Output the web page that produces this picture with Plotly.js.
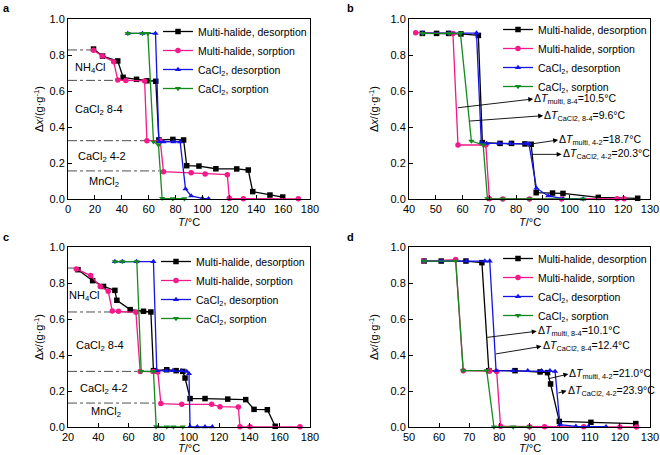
<!DOCTYPE html>
<html>
<head>
<meta charset="utf-8">
<script src="https://cdn.plot.ly/plotly-3.0.1.min.js"></script>
<style>html,body{margin:0;padding:0;background:#fff;}#chart{width:660px;height:455px;}</style>
</head>
<body>
<div id="chart"></div>
<script>
// ---------- Data ----------
const seriesNames = ['Multi-halide, desorption', 'Multi-halide, sorption', 'CaCl<sub>2</sub>, desorption', 'CaCl<sub>2</sub>, sorption'];

// Panel a
const aMDx = [19, 25.7, 37, 41, 51, 58.7, 65.3, 67.6, 78, 86, 88.3, 97.4, 110, 125.5, 134.1, 137.4, 150.2, 159.7];
const aMDy = [0.833, 0.794, 0.767, 0.676, 0.665, 0.657, 0.654, 0.328, 0.331, 0.328, 0.185, 0.183, 0.168, 0.167, 0.161, 0.041, 0.022, 0.011];
const aMSx = [19, 25.5, 34, 37, 43, 57, 58.7, 68.6, 71, 91.6, 102, 118.5, 120, 130.4, 171.3];
const aMSy = [0.826, 0.794, 0.763, 0.661, 0.659, 0.656, 0.324, 0.324, 0.152, 0.146, 0.139, 0.135, 0.004, 0.002, 0.001];
const aCDx = [44.5, 55.4, 65.1, 67.6, 71, 78.5, 83.4, 87.4, 91.6, 100, 104.5];
const aCDy = [0.92, 0.92, 0.92, 0.318, 0.318, 0.318, 0.318, 0.056, 0.017, 0.004, 0.002];
const aCSx = [44.5, 55.4, 59.4, 63.6, 67.3, 70, 78, 86.6];
const aCSy = [0.92, 0.92, 0.92, 0.318, 0.30, 0.004, 0.002, 0.002];

// Panel b
const bMDx = [45, 50.3, 54.8, 59.4, 65.9, 67.4, 74, 78.3, 83.3, 85.6, 87.5, 93.6, 97.5, 110.7, 125.4];
const bMDy = [0.92, 0.92, 0.92, 0.917, 0.909, 0.313, 0.309, 0.309, 0.306, 0.304, 0.035, 0.033, 0.031, 0.009, 0.004];
const bMSx = [42.5, 56.4, 58.3, 68.7, 70, 75, 85, 97, 117.7, 120.3];
const bMSy = [0.924, 0.92, 0.30, 0.30, 0.002, 0, 0, 0, 0.002, 0.002];
const bCDx = [45, 55, 65.2, 67, 69, 73.7, 77.7, 83.6, 84.8, 87.6, 92, 97.6, 105];
const bCDy = [0.922, 0.922, 0.922, 0.313, 0.309, 0.309, 0.309, 0.309, 0.306, 0.06, 0.017, 0.002, 0];
const bCSx = [45, 55, 59.2, 63.3, 67.7, 69.3, 75, 85, 105];
const bCSy = [0.92, 0.92, 0.92, 0.322, 0.30, 0.002, 0, 0, 0];

// Panel c
const cMDx = [26.6, 36.3, 43.5, 51, 52.3, 61.1, 69.9, 74.8, 76.5, 85.3, 91.5, 95.9, 97.4, 100.7, 110.6, 125.6, 137.5, 143, 151.8, 157];
const cMDy = [0.874, 0.813, 0.781, 0.759, 0.704, 0.652, 0.643, 0.639, 0.313, 0.318, 0.313, 0.309, 0.272, 0.158, 0.158, 0.155, 0.152, 0.098, 0.096, 0.004];
const cMSx = [25.5, 35, 41.3, 46.6, 49.3, 53.4, 64.9, 67.7, 76.5, 79.4, 81.4, 95.2, 115, 120.5, 132.6, 133.7, 140.3, 173.4];
const cMSy = [0.878, 0.841, 0.781, 0.754, 0.644, 0.643, 0.637, 0.309, 0.309, 0.306, 0.13, 0.126, 0.126, 0.113, 0.111, 0.002, 0.001, 0.001];
const cCDx = [51, 55.9, 65.3, 76.5, 78.7, 84.8, 89.3, 94.8, 98.5, 100, 100.7, 105.5, 110.6, 115.4];
const cCDy = [0.919, 0.919, 0.919, 0.919, 0.313, 0.313, 0.313, 0.313, 0.309, 0.296, 0.002, 0.001, 0.001, 0.001];
const cCSx = [51, 55.9, 65.5, 68.4, 76.5, 78.3, 85.3, 89.7, 95.9];
const cCSy = [0.919, 0.919, 0.919, 0.309, 0.309, 0.002, 0.001, 0.001, 0.001];

// Panel d
const dMDx = [55, 60.7, 68.9, 74.2, 76.5, 85.2, 93.5, 96, 97, 99.9, 110.4, 125.3];
const dMDy = [0.922, 0.922, 0.922, 0.913, 0.313, 0.313, 0.306, 0.302, 0.239, 0.031, 0.026, 0.019];
const dMSx = [55, 65.5, 68, 76.7, 79.1, 80.4, 90, 95, 108, 120, 125.5];
const dMSy = [0.922, 0.93, 0.313, 0.313, 0.309, 0.004, 0.002, 0.002, 0.001, 0, 0];
const dCDx = [55, 60.7, 69.1, 75.2, 76.8, 78.9, 84.5, 89.4, 94, 96.8, 98.5, 100.1, 105.4, 109.5, 115.4];
const dCDy = [0.922, 0.922, 0.922, 0.922, 0.922, 0.313, 0.313, 0.313, 0.313, 0.313, 0.309, 0.013, 0.004, 0.002, 0.002];
const dCSx = [55, 65.5, 68, 75.8, 78.2, 84.6, 90];
const dCSy = [0.922, 0.922, 0.313, 0.313, 0, 0, 0];

// Reference level lines (dash-dot): level value and end temperature
const aLevels = [0.828, 0.659, 0.324, 0.156];
const aLevelEnd = [19, 66, 66, 68];
const cLevels = [0.883, 0.639, 0.309, 0.133];
const cLevelEnd = [25, 74.4, 76.6, 78.8];

// Region labels
const regionLabels = ['NH<sub>4</sub>Cl', 'CaCl<sub>2</sub> 8-4', 'CaCl<sub>2</sub> 4-2', 'MnCl<sub>2</sub>'];

// ΔT labels
const bDeltaLabels = ['Δ<i>T</i><sub>multi, 8-4</sub>=10.5°C', 'Δ<i>T</i><sub>CaCl2, 8-4</sub>=9.6°C', 'Δ<i>T</i><sub>multi, 4-2</sub>=18.7°C', 'Δ<i>T</i><sub>CaCl2, 4-2</sub>=20.3°C'];
const dDeltaLabels = ['Δ<i>T</i><sub>multi, 8-4</sub>=10.1°C', 'Δ<i>T</i><sub>CaCl2, 8-4</sub>=12.4°C', 'Δ<i>T</i><sub>multi, 4-2</sub>=21.0°C', 'Δ<i>T</i><sub>CaCl2, 4-2</sub>=23.9°C'];

const xTitle = '<i>T</i>/°C';
const yTitle = 'Δ<i>x</i>/(g·g<sup>-1</sup>)';

// ---------- Styles ----------
const colors = ['#000000', '#F2198A', '#1414E6', '#148A1E'];
const symbols = ['square', 'circle', 'triangle-up', 'triangle-down'];
const FONT = 'Liberation Sans, Arial, Helvetica, sans-serif';

const traces = [];
function addPanel(xs, ys, xa, ya, legendId) {
  for (let i = 0; i < 4; i++) {
    traces.push({
      x: xs[i], y: ys[i], xaxis: xa, yaxis: ya, type: 'scatter', mode: 'lines+markers',
      name: seriesNames[i], legend: legendId,
      line: {color: colors[i], width: 1.3},
      marker: {color: colors[i], symbol: symbols[i], size: 5.5},
      cliponaxis: false
    });
  }
}
function addLevels(levels, ends, x0, xa, ya) {
  for (let i = 0; i < levels.length; i++) {
    traces.push({
      x: [x0, ends[i]], y: [levels[i], levels[i]], xaxis: xa, yaxis: ya, type: 'scatter', mode: 'lines',
      showlegend: false, hoverinfo: 'skip',
      line: {color: '#222', width: 0.8, dash: 'dashdot'}
    });
  }
}

addLevels(aLevels, aLevelEnd, 0, 'x', 'y');
addLevels(cLevels, cLevelEnd, 20, 'x3', 'y3');
addPanel([aMDx, aMSx, aCDx, aCSx], [aMDy, aMSy, aCDy, aCSy], 'x', 'y', 'legend');
addPanel([bMDx, bMSx, bCDx, bCSx], [bMDy, bMSy, bCDy, bCSy], 'x2', 'y2', 'legend2');
addPanel([cMDx, cMSx, cCDx, cCSx], [cMDy, cMSy, cCDy, cCSy], 'x3', 'y3', 'legend3');
addPanel([dMDx, dMSx, dCDx, dCSx], [dMDy, dMSy, dCDy, dCSy], 'x4', 'y4', 'legend4');

function xAxis(range, dtick, domain, anchor) {
  return {range: range, dtick: dtick, domain: domain, anchor: anchor,
    showline: true, mirror: true, linecolor: '#000', linewidth: 1,
    ticks: 'inside', ticklen: 4, tickwidth: 1, tickcolor: '#000',
    showgrid: false, zeroline: false, tickfont: {size: 11, color: '#000'}};
}
function yAxis(domain, anchor, standoff) {
  return {range: [0, 1], dtick: 0.2, tickformat: '.1f', domain: domain, anchor: anchor,
    showline: true, mirror: true, linecolor: '#000', linewidth: 1,
    ticks: 'inside', ticklen: 4, tickwidth: 1, tickcolor: '#000',
    showgrid: false, zeroline: false, tickfont: {size: 11, color: '#000'},
    title: {text: yTitle, font: {size: 11, color: '#000'}, standoff: standoff}};
}

const W = 660, H = 455;
const xdL = [68 / W, 310 / W], xdR = [409 / W, 650 / W];
const ydT = [1 - 199 / H, 1 - 19 / H], ydB = [1 - 427 / H, 1 - 247 / H];

function legendAt(x, y) {
  return {x: x, y: y, xanchor: 'left', yanchor: 'top', bgcolor: 'rgba(0,0,0,0)',
    font: {size: 10.5, color: '#000'}, itemwidth: 30, tracegroupgap: 0, borderwidth: 0};
}

const annotations = [];
// panel letters
[['a', 0.002, 1.0], ['b', 345 / W, 1.0], ['c', 0.002, 1 - 229 / H], ['d', 345 / W, 1 - 229 / H]].forEach(p => {
  annotations.push({xref: 'paper', yref: 'paper', x: p[1], y: p[2], xanchor: 'left', yanchor: 'top',
    text: '<b>' + p[0] + '</b>', showarrow: false, font: {size: 11, color: '#000'}});
});
// x-axis titles
[[(xdL[0] + xdL[1]) / 2, 1 - 222 / H, 'middle'], [(xdR[0] + xdR[1]) / 2, 1 - 222 / H, 'middle'],
 [(xdL[0] + xdL[1]) / 2, 0, 'bottom'], [(xdR[0] + xdR[1]) / 2, 0, 'bottom']].forEach(p => {
  annotations.push({xref: 'paper', yref: 'paper', x: p[0], y: p[1], xanchor: 'center', yanchor: p[2],
    text: xTitle, showarrow: false, borderpad: 0, font: {size: 11, color: '#000'}});
});
// region labels
const aLabelPos = [[16.4, 0.726], [22.8, 0.494], [25, 0.235], [27, 0.095]];
const cLabelPos = [[31.2, 0.726], [41.2, 0.452], [44, 0.211], [45.1, 0.085]];
function addRegion(pos, xr, yr) {
  for (let i = 0; i < 4; i++) {
    annotations.push({xref: xr, yref: yr, x: pos[i][0], y: pos[i][1], text: regionLabels[i],
      showarrow: false, font: {size: 11, color: '#000'}});
  }
}
addRegion(aLabelPos, 'x', 'y');
addRegion(cLabelPos, 'x3', 'y3');

// ΔT arrows: [tailX, tailY (on curve), textX, textY (arrow head at text)]
const bArrows = [[58.3, 0.507, 86.4, 0.556], [62.7, 0.433, 90.1, 0.463],
                 [85.8, 0.306, 95.7, 0.328], [85.8, 0.248, 97.0, 0.248]];
const dArrows = [[76.0, 0.498, 92.4, 0.532], [78.8, 0.406, 94.0, 0.448],
                 [96.2, 0.268, 102.9, 0.294], [99.6, 0.189, 102.3, 0.202]];
function addArrows(arr, labels, xr, yr) {
  for (let i = 0; i < arr.length; i++) {
    const a = arr[i];
    annotations.push({xref: xr, yref: yr, axref: xr, ayref: yr, x: a[0], y: a[1], ax: a[2], ay: a[3],
      xanchor: 'left', yanchor: 'middle', text: labels[i], font: {size: 10.5, color: '#000'},
      showarrow: true, arrowside: 'start', arrowhead: 2, startarrowhead: 2, arrowsize: 1.1, startarrowsize: 1.1,
      arrowwidth: 0.9, arrowcolor: '#000', standoff: 0, startstandoff: 0, borderpad: 0});
  }
}
addArrows(bArrows, bDeltaLabels, 'x2', 'y2');
addArrows(dArrows, dDeltaLabels, 'x4', 'y4');

const layout = {
  width: W, height: H,
  margin: {l: 0, r: 0, t: 0, b: 0},
  paper_bgcolor: '#fff', plot_bgcolor: '#fff',
  font: {family: FONT, size: 11, color: '#000'},
  showlegend: true,
  xaxis: xAxis([0, 180], 20, xdL, 'y'),
  yaxis: yAxis(ydT, 'x', 3),
  xaxis2: xAxis([40, 130], 10, xdR, 'y2'),
  yaxis2: yAxis(ydT, 'x2', 9),
  xaxis3: xAxis([20, 180], 20, xdL, 'y3'),
  yaxis3: yAxis(ydB, 'x3', 3),
  xaxis4: xAxis([50, 130], 10, xdR, 'y4'),
  yaxis4: yAxis(ydB, 'x4', 9),
  legend: legendAt(158 / W, 1 - 17 / H),
  legend2: legendAt(498 / W, 1 - 15 / H),
  legend3: legendAt(156 / W, 1 - 247 / H),
  legend4: legendAt(498 / W, 1 - 244 / H),
  annotations: annotations
};

Plotly.newPlot('chart', traces, layout, {staticPlot: true, displayModeBar: false});
</script>
</body>
</html>
